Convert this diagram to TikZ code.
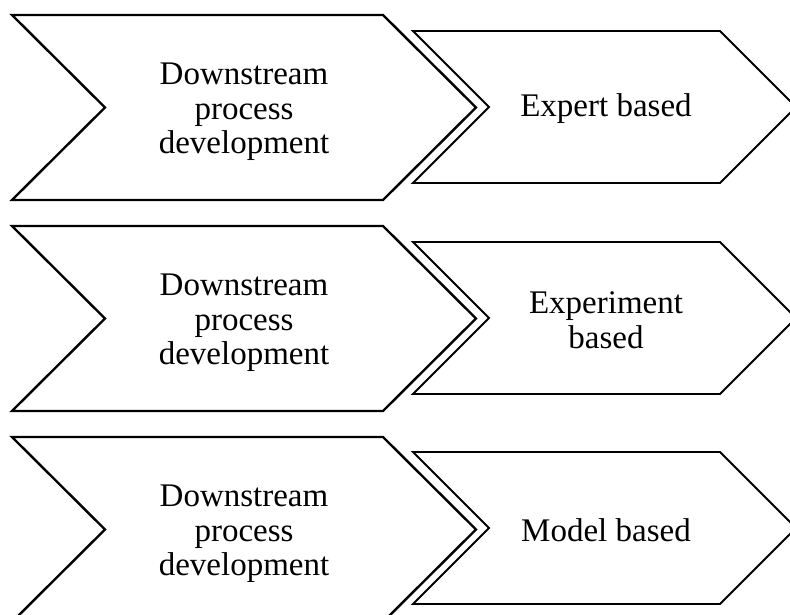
\documentclass[tikz,border=0pt]{standalone}
\usepackage{fontspec}
\setmainfont{Liberation Serif}
\usetikzlibrary{positioning}

\tikzset{
  stage/.style={line width=2.4pt},
  method/.style={line width=1.9pt},
  chevtext/.style={align=center, inner sep=0pt, font=\fontsize{33}{34.5}\selectfont}
}

\begin{document}
\begin{tikzpicture}[x=1pt, y=-1pt]
  \useasboundingbox (0, 0) rectangle (790, 615);
  \clip (0, 0) rectangle (790, 615);

  % row 1
  \draw [stage] (12, 15) -- ++(371, 0) -- ++(93, 92.5) -- ++(-93, 92.5) -- ++(-371, 0) -- ++(93, -92.5) -- cycle;
  \draw [method] (413, 31) -- ++(307, 0) -- ++(76, 76) -- ++(-76, 76) -- ++(-307, 0) -- ++(76, -76) -- cycle;
  \node [chevtext] (dsp1) at (244, 112) {Downstream\\process\\development};
  \node [chevtext] (expert) at (606, 109) {Expert based};

  % row 2
  \draw [stage] (12, 226) -- ++(371, 0) -- ++(93, 92.5) -- ++(-93, 92.5) -- ++(-371, 0) -- ++(93, -92.5) -- cycle;
  \draw [method] (413, 242) -- ++(307, 0) -- ++(76, 76) -- ++(-76, 76) -- ++(-307, 0) -- ++(76, -76) -- cycle;
  \node [chevtext] (dsp2) at (244, 323) {Downstream\\process\\development};
  \node [chevtext] (experiment) at (606, 320) {Experiment\\based};

  % row 3
  \draw [stage] (12, 437) -- ++(371, 0) -- ++(93, 92.5) -- ++(-93, 92.5) -- ++(-371, 0) -- ++(93, -92.5) -- cycle;
  \draw [method] (413, 452) -- ++(307, 0) -- ++(76, 76) -- ++(-76, 76) -- ++(-307, 0) -- ++(76, -76) -- cycle;
  \node [chevtext] (dsp3) at (244, 534) {Downstream\\process\\development};
  \node [chevtext] (model) at (606, 530) {Model based};
\end{tikzpicture}
\end{document}
